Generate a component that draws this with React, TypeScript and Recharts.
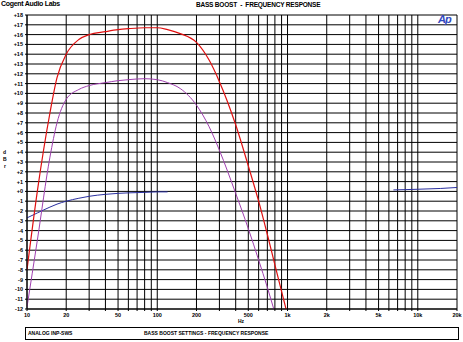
import React from 'react';
import { LineChart, Line, XAxis, YAxis, CartesianGrid } from 'recharts';

// frequency points (Hz) shared by all three traces
const freqs = [10, 12, 15, 17, 20, 25, 30, 40, 50, 60, 80, 100, 120, 150, 200, 250, 300, 400, 500, 600, 700, 800, 900, 1000, 6500, 8000, 10000, 15000, 20000];

// dBr
const boostMax = [-8.0, 0.0, 8.0, 11.6, 14.0, 15.5, 16.0, 16.3, 16.5, 16.6, 16.7, 16.7, 16.5, 16.1, 15.2, 13.4, 11.2, 6.8, 2.6, -1.0, -4.4, -7.5, -10.2, -12.6, null, null, null, null, null];
const boostMid = [-11.8, -5.0, 3.5, 7.0, 9.4, 10.4, 10.8, 11.1, 11.3, 11.4, 11.5, 11.4, 11.1, 10.5, 8.8, 6.6, 4.2, -0.2, -3.8, -7.0, -9.8, -12.4, -14.8, null, null, null, null, null, null];
const flat = [-2.7, -2.2, -1.6, -1.3, -1.0, -0.7, -0.5, -0.3, -0.2, -0.15, -0.1, -0.05, -0.05, null, null, null, null, null, null, null, null, null, null, null, 0.15, 0.18, 0.22, 0.3, 0.4];

const gridFreqs = [10, 20, 30, 40, 50, 60, 70, 80, 90, 100, 200, 300, 400, 500, 600, 700, 800, 900, 1000, 2000, 3000, 4000, 5000, 6000, 7000, 8000, 9000, 10000, 20000];
const freqLabels: Record<number, string> = { 10: '10', 20: '20', 50: '50', 100: '100', 200: '200', 500: '500', 1000: '1k', 2000: '2k', 5000: '5k', 10000: '10k', 20000: '20k' };

const dbTicks: number[] = [];
for (let v = -12; v <= 18; v++) dbTicks.push(v);
const minorTicks: number[] = [];
for (let v = -12; v < 18; v++) minorTicks.push(v + 0.5);

const data = freqs.map((f, i) => ({ f, max: boostMax[i], mid: boostMid[i], flat: flat[i] }));

const fmtDb = (v: number) => (v >= 0 ? `+${v}` : `${v}`);

const App: React.FC = () => {
  return (
    <div style={{ position: 'absolute', left: 0, top: 0, width: 463, height: 342, background: '#fff', fontFamily: '"Liberation Sans", Arial, sans-serif', fontWeight: 'bold', color: '#000' }}>
      <div style={{ position: 'absolute', left: 1, top: 0, fontSize: 7, letterSpacing: -0.3 }}>Cogent Audio Labs</div>
      <div style={{ position: 'absolute', left: 196, top: 1, fontSize: 6.5, letterSpacing: -0.2 }}>BASS BOOST&nbsp;&nbsp;-&nbsp;&nbsp;FREQUENCY RESPONSE</div>
      <LineChart width={463} height={342} data={data} margin={{ top: 15, right: 6, left: 0, bottom: 21 }}>
        <CartesianGrid stroke="#000" strokeWidth={1} />
        <XAxis
          dataKey="f"
          type="number"
          scale="log"
          domain={[10, 20000]}
          ticks={gridFreqs}
          interval={0}
          height={12}
          tickSize={2}
          tickFormatter={(v: number) => freqLabels[v] || ''}
          tick={{ fontSize: 5.5, fill: '#000', fontWeight: 'bold' }}
          stroke="#000"
          allowDataOverflow
        />
        <YAxis
          yAxisId="minor"
          type="number"
          domain={[-12, 18]}
          ticks={minorTicks}
          interval={0}
          width={0}
          mirror
          axisLine={false}
          tick={false}
          tickSize={2}
          tickLine={{ stroke: '#000' }}
          allowDataOverflow
        />
        <YAxis
          type="number"
          domain={[-12, 18]}
          ticks={dbTicks}
          interval={0}
          width={27}
          tickSize={2}
          tickFormatter={fmtDb}
          tick={{ fontSize: 5.5, fill: '#000', fontWeight: 'bold' }}
          stroke="#000"
          allowDataOverflow
        />
        <Line dataKey="flat" stroke="#2a2fa0" strokeWidth={1} dot={false} type="monotone" connectNulls={false} isAnimationActive={false} />
        <Line dataKey="mid" stroke="#a040b0" strokeWidth={1} dot={false} type="monotone" connectNulls={false} isAnimationActive={false} />
        <Line dataKey="max" stroke="#e01010" strokeWidth={1.2} dot={false} type="monotone" connectNulls={false} isAnimationActive={false} />
      </LineChart>
      <div style={{ position: 'absolute', left: 438, top: 13, fontSize: 11, fontStyle: 'italic', color: '#3348c0', letterSpacing: -1 }}>Ap</div>
      <div style={{ position: 'absolute', left: 3, top: 149, fontSize: 5, lineHeight: '6px' }}>d</div>
      <div style={{ position: 'absolute', left: 3, top: 156, fontSize: 5, lineHeight: '6px' }}>B</div>
      <div style={{ position: 'absolute', left: 4, top: 163, fontSize: 5, lineHeight: '6px' }}>r</div>
      <div style={{ position: 'absolute', left: 238, top: 318, fontSize: 5 }}>Hz</div>
      <div style={{ position: 'absolute', left: 25, top: 327, width: 432, height: 11, border: '1px solid #000', fontSize: 5, lineHeight: '11px' }}>
        <span style={{ position: 'absolute', left: 2 }}>ANALOG INP-SWS</span>
        <span style={{ position: 'absolute', left: 118 }}>BASS BOOST SETTINGS - FREQUENCY RESPONSE</span>
      </div>
    </div>
  );
};

export default App;
